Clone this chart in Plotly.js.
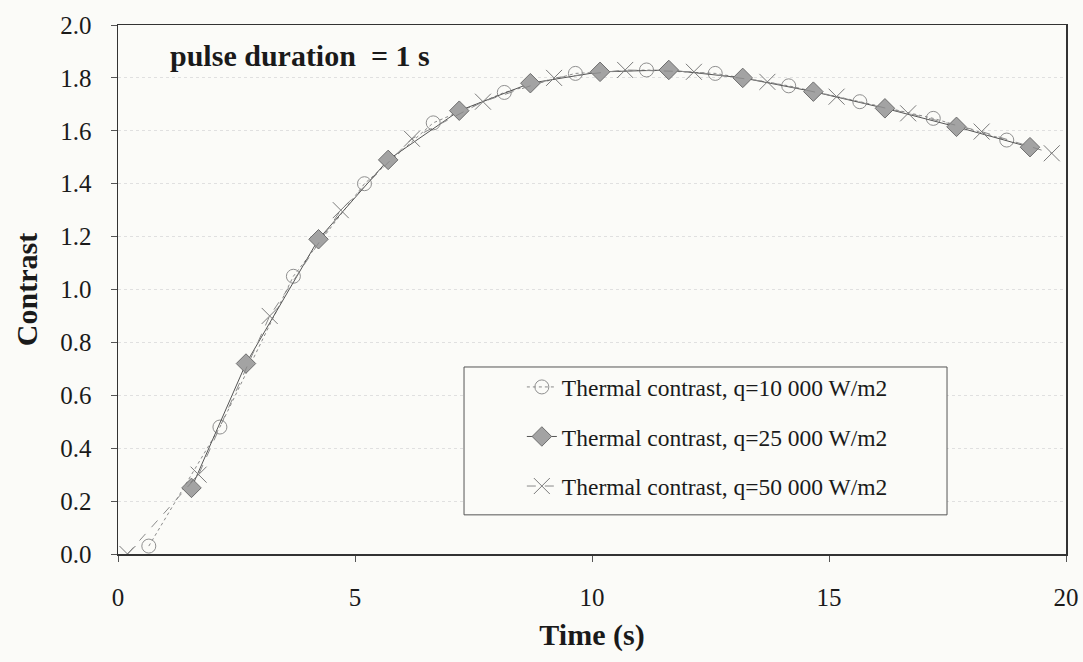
<!DOCTYPE html>
<html>
<head>
<meta charset="utf-8">
<script src="https://cdn.plot.ly/plotly-3.0.1.min.js"></script>
<style>
  html, body { margin: 0; padding: 0; background: #fbfbf8; }
  #chart { width: 1083px; height: 662px; }
</style>
</head>
<body>
<div id="chart"></div>
<script>
// Thermal contrast vs. time for a 1 s heating pulse, three heat flux levels
const seriesNames = [
  'Thermal contrast, q=10 000 W/m2',
  'Thermal contrast, q=25 000 W/m2',
  'Thermal contrast, q=50 000 W/m2'
];

// q = 10 000 W/m2
const time10 = [0.65, 2.15, 3.7, 5.2, 6.65, 8.15, 9.65, 11.15, 12.6, 14.15, 15.65, 17.2, 18.75];
const contrast10 = [0.03, 0.48, 1.05, 1.40, 1.63, 1.745, 1.817, 1.83, 1.817, 1.77, 1.71, 1.647, 1.565];

// q = 25 000 W/m2
const time25 = [1.55, 2.7, 4.23, 5.7, 7.2, 8.7, 10.17, 11.62, 13.18, 14.67, 16.18, 17.69, 19.24];
const contrast25 = [0.25, 0.72, 1.19, 1.49, 1.676, 1.78, 1.823, 1.83, 1.80, 1.748, 1.685, 1.615, 1.538];

// q = 50 000 W/m2
const time50 = [0.2, 1.7, 3.2, 4.7, 6.2, 7.7, 9.2, 10.7, 12.15, 13.7, 15.16, 16.67, 18.22, 19.7];
const contrast50 = [0.0, 0.30, 0.90, 1.30, 1.57, 1.71, 1.80, 1.83, 1.823, 1.785, 1.729, 1.666, 1.597, 1.515];

const yTicks = [0, 0.2, 0.4, 0.6, 0.8, 1.0, 1.2, 1.4, 1.6, 1.8, 2.0];
const xTicks = [0, 5, 10, 15, 20];

const serif = 'Liberation Serif, Times New Roman, serif';
const ink = '#1a1a1a';
const bg = '#fbfbf8';

const traces = [
  {
    x: time10, y: contrast10, name: seriesNames[0], legendgroup: 'a',
    type: 'scatter', mode: 'lines+markers',
    line: { color: '#8a8a8a', width: 1, dash: 'dot' },
    marker: { symbol: 'circle-open', size: 14, color: '#8f8f8f', line: { width: 1, color: '#8f8f8f' } }
  },
  {
    x: time25, y: contrast25, name: seriesNames[1], legendgroup: 'b',
    type: 'scatter', mode: 'lines+markers',
    line: { color: '#555555', width: 1 },
    marker: { symbol: 'diamond', size: 15, color: '#a3a3a3', line: { width: 1, color: '#6e6e6e' } }
  },
  {
    x: time50, y: contrast50, name: seriesNames[2], legendgroup: 'c',
    type: 'scatter', mode: 'lines+markers',
    line: { color: '#8a8a8a', width: 1, dash: 'dash' },
    marker: { symbol: 'x-thin-open', size: 16, color: '#7a7a7a', line: { width: 1, color: '#7a7a7a' } }
  }
];

const layout = {
  width: 1083, height: 662,
  margin: { l: 118, r: 17, t: 25, b: 108 },
  paper_bgcolor: bg,
  plot_bgcolor: bg,
  font: { family: serif, color: ink, size: 22 },
  showlegend: true,
  legend: {
    x: 0.426, xanchor: 'left', y: 0.357, yanchor: 'top',
    bgcolor: 'rgba(0,0,0,0)', borderwidth: 0,
    font: { family: serif, size: 23.5, color: ink },
    tracegroupgap: 16, itemwidth: 30
  },
  xaxis: {
    range: [0, 20], tickvals: xTicks, ticktext: xTicks.map(String),
    showline: true, linecolor: '#333', linewidth: 1.5, mirror: true,
    ticks: 'outside', ticklen: 6, tickcolor: '#555',
    ticklabelstandoff: 14,
    showgrid: false, zeroline: false,
    tickfont: { family: serif, size: 25, color: ink },
    title: { text: '<b>Time (s)</b>', font: { family: serif, size: 30, color: ink }, standoff: 14 }
  },
  yaxis: {
    range: [0, 2], tickvals: yTicks, ticktext: yTicks.map(v => v.toFixed(1)),
    showline: true, linecolor: '#333', linewidth: 1.5, mirror: true,
    ticks: 'outside', ticklen: 6, tickcolor: '#555',
    ticklabelstandoff: 14,
    showgrid: true, gridcolor: '#e0e0e0', gridwidth: 1, griddash: 'dot',
    zeroline: false,
    tickfont: { family: serif, size: 25, color: ink },
    title: { text: '<b>Contrast</b>', font: { family: serif, size: 30, color: ink }, standoff: 14 }
  },
  shapes: [
    // legend frame
    { type: 'rect', xref: 'paper', yref: 'paper', x0: 0.365, x1: 0.8745, y0: 0.074, y1: 0.3535,
      line: { color: '#555', width: 1 }, fillcolor: bg, layer: 'above' }
  ],
  annotations: [
    { xref: 'paper', yref: 'paper', x: 0.0527, y: 0.943, xanchor: 'left', yanchor: 'middle',
      text: '<b>pulse duration\u00a0 = 1 s</b>', showarrow: false,
      font: { family: serif, size: 30, color: ink } }
  ]
};

Plotly.newPlot('chart', traces, layout, { staticPlot: true, displayModeBar: false });
</script>
</body>
</html>
